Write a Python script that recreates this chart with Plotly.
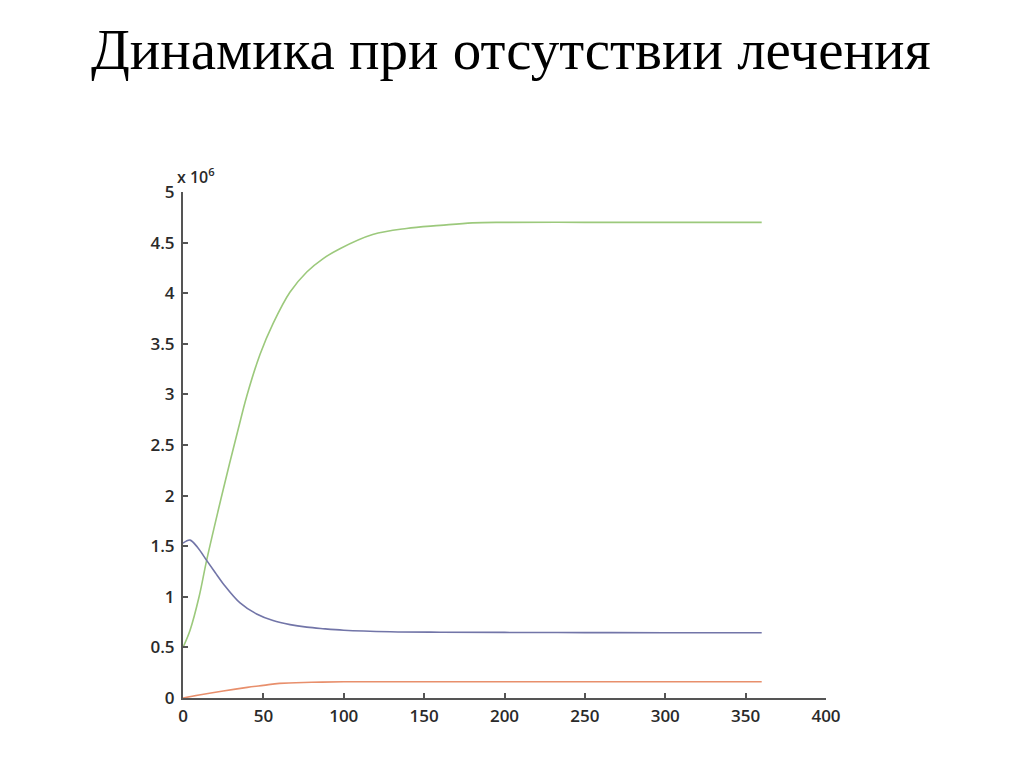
import plotly.graph_objects as go

# значения (в единицах 10^6)
t_green = [0, 4.4, 10, 14.7, 22, 29, 34.4, 39.6, 48, 56, 66.5, 77, 87, 97.6, 118, 139, 160, 180, 200, 250, 300, 360]
green = [0.5, 0.67, 1.0, 1.36, 1.86, 2.32, 2.66, 2.98, 3.40, 3.70, 4.01, 4.21, 4.34, 4.44, 4.58, 4.64, 4.67, 4.695, 4.70, 4.70, 4.70, 4.70]

t_blue = [0, 2, 4.4, 9, 14.7, 20, 25, 35.5, 45.8, 56, 66.6, 77, 87, 100, 129, 160, 200, 250, 300, 360]
blue = [1.53, 1.55, 1.56, 1.49, 1.36, 1.24, 1.13, 0.94, 0.83, 0.765, 0.725, 0.70, 0.685, 0.67, 0.655, 0.65, 0.648, 0.646, 0.645, 0.645]

t_red = [0, 10, 25, 40, 50, 60, 80, 100, 150, 200, 250, 300, 360]
red = [0.0, 0.03, 0.07, 0.105, 0.125, 0.145, 0.155, 0.16, 0.161, 0.161, 0.161, 0.161, 0.161]

x_ticks = [0, 50, 100, 150, 200, 250, 300, 350, 400]
y_ticks = [0, 0.5, 1, 1.5, 2, 2.5, 3, 3.5, 4, 4.5, 5]
y_labels = ["0", "0.5", "1", "1.5", "2", "2.5", "3", "3.5", "4", "4.5", "5"]

fig = go.Figure()
fig.add_trace(go.Scatter(x=t_green, y=green, mode="lines", line=dict(color="#9cc97c", width=1.6, shape="spline")))
fig.add_trace(go.Scatter(x=t_blue, y=blue, mode="lines", line=dict(color="#7275a8", width=1.6, shape="spline")))
fig.add_trace(go.Scatter(x=t_red, y=red, mode="lines", line=dict(color="#e88f6c", width=1.6, shape="spline")))

axis_font = dict(family="Open Sans", size=17, color="#2a2a2a", weight=600)
fig.update_xaxes(range=[0, 400], tickvals=x_ticks, ticks="inside", ticklen=5, tickwidth=2, tickcolor="#555555",
                 showline=True, linecolor="#555555", linewidth=2, showgrid=False, zeroline=False, tickfont=axis_font,
                 ticklabelstandoff=2)
fig.update_yaxes(range=[0, 5], tickvals=y_ticks, ticktext=y_labels, ticks="inside", ticklen=5, tickwidth=2,
                 tickcolor="#555555", showline=True, linecolor="#555555", linewidth=2, showgrid=False,
                 zeroline=False, tickfont=axis_font, ticklabelstandoff=3)

fig.add_annotation(text="x 10<sup>6</sup>", xref="paper", yref="paper", x=-0.012, y=1.0, xanchor="left",
                   yanchor="bottom", yshift=2, showarrow=False,
                   font=dict(family="Open Sans", size=16, color="#2a2a2a", weight=600))

fig.update_layout(
    width=1024, height=768,
    title=dict(text="Динамика при отсутствии лечения", x=0.491, xanchor="center", y=0.947, yanchor="middle",
               font=dict(family="Liberation Serif", size=57, color="#000000")),
    showlegend=False,
    plot_bgcolor="white", paper_bgcolor="white",
    margin=dict(l=175, r=206, t=184, b=78),
)

fig.write_html("out.html")
